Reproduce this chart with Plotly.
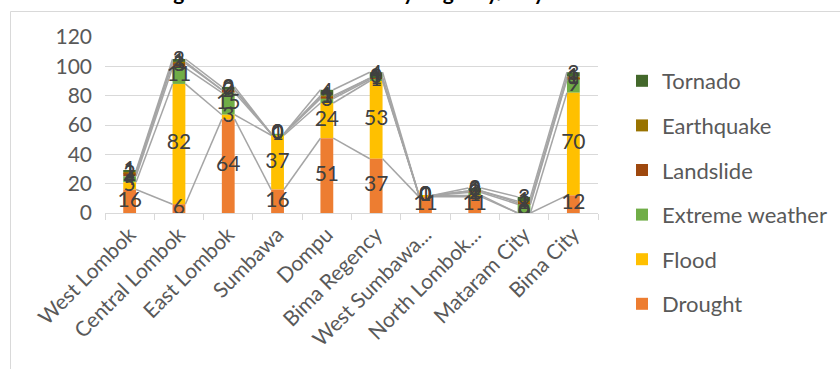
import numpy as np
import plotly.graph_objects as go

# Regencies / cities and their tick labels
regions = ["West Lombok", "Central Lombok", "East Lombok", "Sumbawa", "Dompu",
           "Bima Regency", "West Sumbawa Regency", "North Lombok Regency",
           "Mataram City", "Bima City"]
tick_labels = ["West Lombok", "Central Lombok", "East Lombok", "Sumbawa", "Dompu",
               "Bima Regency", "West Sumbawa...", "North Lombok...",
               "Mataram City", "Bima City"]

# Disaster counts per type (stacking order bottom -> top)
drought = [16, 6, 64, 16, 51, 37, 11, 11, 0, 12]
flood = [5, 82, 3, 37, 24, 53, 1, 1, 0, 70]
extreme_weather = [4, 11, 15, 1, 3, 1, 0, 2, 6, 9]
landslide = [2, 3, 2, 0, 1, 1, 0, 1, 1, 1]
earthquake = [1, 1, 0, 0, 1, 0, 0, 0, 1, 1]
tornado = [1, 2, 2, 0, 4, 4, 0, 2, 3, 3]

series_names = ["Drought", "Flood", "Extreme weather", "Landslide", "Earthquake", "Tornado"]
series_values = [drought, flood, extreme_weather, landslide, earthquake, tornado]
series_colors = ["#ED7D31", "#FFC000", "#70AD47", "#9E480E", "#997300", "#43682B"]

FONT = "Lato"
TICK_SIZE = 21
x = np.arange(len(regions))
bar_w = 0.26

fig = go.Figure()

vals = np.array(series_values, dtype=float)
tops = np.cumsum(vals, axis=0)
bottoms = tops - vals

# Series lines joining the top of each segment between neighbouring bars
for k in range(len(series_names)):
    lx, ly = [], []
    for i in range(len(regions) - 1):
        lx += [x[i] + bar_w / 2, x[i + 1] - bar_w / 2, None]
        ly += [tops[k, i], tops[k, i + 1], None]
    fig.add_trace(go.Scatter(x=lx, y=ly, mode="lines",
                             line=dict(color="#A5A5A5", width=1.5),
                             showlegend=False, hoverinfo="skip"))

# Stacked bars (added top series first so the legend lists Tornado first)
for k in reversed(range(len(series_names))):
    fig.add_trace(go.Bar(x=x, y=series_values[k], base=bottoms[k],
                         name=series_names[k], marker_color=series_colors[k],
                         marker_line_width=0, width=bar_w,
                         legendgroup=series_names[k]))

# Value labels centred on each segment
for k in range(len(series_names)):
    fig.add_trace(go.Scatter(x=x, y=(bottoms[k] + tops[k]) / 2, mode="text",
                             text=[str(int(v)) for v in vals[k]],
                             textfont=dict(family=FONT, size=21, color="#404040"),
                             showlegend=False, hoverinfo="skip"))

# Plot-area geometry in pixels
L, R, T, B = 105, 598, 37, 213
W, H = 840, 369

def px_x(p):
    return (p - L) / (R - L)

def px_y(p):
    return (B - p) / (B - T)

fig.update_layout(
    width=W, height=H,
    margin=dict(l=L, r=W - R, t=T, b=H - B),
    paper_bgcolor="white", plot_bgcolor="white",
    barmode="overlay",
    font=dict(family=FONT, size=TICK_SIZE, color="#595959"),
    showlegend=True,
    legend=dict(x=(622) / W, y=1 - 60 / H, xref="container", yref="container",
                xanchor="left", yanchor="top",
                traceorder="grouped", tracegroupgap=13, maxheight=1,
                font=dict(family=FONT, size=22, color="#595959"),
                bgcolor="rgba(0,0,0,0)"),
    xaxis=dict(range=[-0.5, len(regions) - 0.5], tickvals=x, ticktext=tick_labels,
               tickangle=-45, ticks="", showgrid=False, zeroline=False,
               showline=True, linecolor="#D9D9D9", linewidth=1,
               tickfont=dict(family=FONT, size=TICK_SIZE, color="#595959"),
               minor=dict(tickvals=np.arange(-0.5, len(regions), 1.0), ticks="outside",
                          ticklen=6, tickcolor="#D9D9D9", tickwidth=1, showgrid=False)),
    yaxis=dict(range=[0, 120], tickvals=list(range(0, 121, 20)), showgrid=True,
               gridcolor="#D9D9D9", gridwidth=1, zeroline=False, showline=False,
               ticks="", ticklabelstandoff=12,
               tickfont=dict(family=FONT, size=TICK_SIZE, color="#595959")),
    shapes=[dict(type="rect", xref="paper", yref="paper",
                 x0=px_x(10.5), x1=px_x(860), y0=px_y(380), y1=px_y(11.5),
                 line=dict(color="#D9D9D9", width=1), fillcolor="rgba(0,0,0,0)",
                 layer="below")],
    annotations=[dict(text="<b>Figure 4. Disaster Events by Regency/City in NTB Province</b>",
                      xref="paper", yref="paper", x=px_x(428), y=px_y(6),
                      xanchor="center", yanchor="bottom", showarrow=False,
                      font=dict(family=FONT, size=21, color="#000000"))],
)

fig.write_html("out.html")
